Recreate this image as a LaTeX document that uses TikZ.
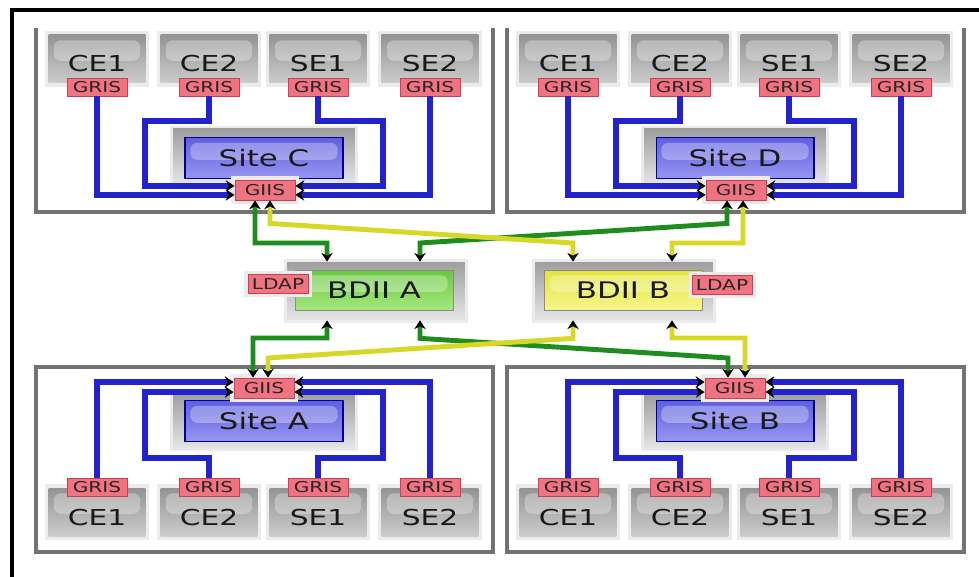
\documentclass[tikz,border=0pt]{standalone}
\usepackage{fontspec}
\usepackage{tikz}
\usepackage{xcolor}
\usetikzlibrary{arrows.meta,positioning}
\newfontfamily\diagfont[FakeStretch=1.35]{DejaVu Sans}

\definecolor{wireblue}{RGB}{35,35,205}
\definecolor{wiregreen}{RGB}{30,140,30}
\definecolor{wireyellow}{RGB}{215,215,40}
\definecolor{grisfill}{RGB}{240,115,130}
\definecolor{grisline}{RGB}{210,60,80}
\definecolor{sitetop}{RGB}{95,95,225}
\definecolor{sitebot}{RGB}{150,150,240}
\definecolor{bdiiAtop}{RGB}{105,200,65}
\definecolor{bdiiAbot}{RGB}{165,232,125}
\definecolor{bdiiBtop}{RGB}{228,228,60}
\definecolor{bdiiBbot}{RGB}{246,246,140}

\tikzset{
  halo/.style={preaction={draw=black!8,line width=#1}},
  gloss/.style={path picture={\fill[white,opacity=.3,rounded corners=4pt]
      ([xshift=3pt,yshift=-3pt]path picture bounding box.north west) rectangle
      ([xshift=-3pt,yshift=-1pt]path picture bounding box.east);}},
  machine/.style={rectangle,top color=black!42,bottom color=black!20,halo=4pt,gloss,
    minimum width=1.94cm,minimum height=0.96cm,inner sep=0pt,
    text height=0.52cm,text depth=0pt,text=black!90,
    font=\diagfont\fontsize{12.5}{14}\selectfont},
  gris/.style={rectangle,fill=grisfill,draw=grisline,line width=.5pt,
    minimum width=1.2cm,minimum height=0.36cm,inner sep=0pt,text=black!85,
    font=\diagfont\fontsize{8.5}{9}\selectfont},
  giis/.style={gris,minimum height=0.4cm,halo=5pt},
  sitebox/.style={rectangle,top color=black!38,bottom color=black!10,halo=3pt,
    minimum width=3.64cm,minimum height=1.1cm,inner sep=0pt},
  siteinner/.style={rectangle,draw=blue!60!black,line width=.6pt,
    top color=sitetop,bottom color=sitebot,gloss,
    minimum width=3.16cm,minimum height=0.82cm,inner sep=0pt,text=black!90,
    font=\diagfont\fontsize{13}{15}\selectfont},
  bdiibox/.style={sitebox,minimum width=3.56cm,minimum height=1.16cm},
  bdiiinner/.style 2 args={rectangle,draw=black!45,line width=.5pt,
    top color=#1,bottom color=#2,gloss,
    minimum width=3.16cm,minimum height=0.8cm,inner sep=0pt,text=black!90,
    font=\diagfont\fontsize{13}{15}\selectfont},
  siteframe/.style={draw=black!55,line width=1.8pt},
  wire/.style={draw=wireblue,line width=3.2pt,->},
  link/.style={draw=#1,line width=2.8pt,<->}
}

\begin{document}
\begin{tikzpicture}[x=0.02cm,y=-0.02cm,>={Stealth[black,length=5pt,width=6.5pt]}]
  \useasboundingbox (0,0) rectangle (979,577);
  \draw [line width=2.8pt](12,577) -- (12,10) -- (979,10);

  \draw [siteframe](36,28) -- (36,212) -- (493,212) -- (493,28);
  \draw [siteframe](507,28) -- (507,212) -- (964,212) -- (964,28);
  \draw [siteframe](36,367) rectangle (493,552);
  \draw [siteframe](507,367) rectangle (964,552);

  \node[machine] at(97,59)(mC1){CE1};
  \node[machine] at(209,59)(mC2){CE2};
  \node[machine] at(318,59)(mC3){SE1};
  \node[machine] at(430,59)(mC4){SE2};
  \node[gris] at(97,87)(gC1){GRIS};
  \node[gris] at(209,87)(gC2){GRIS};
  \node[gris] at(318,87)(gC3){GRIS};
  \node[gris] at(430,87)(gC4){GRIS};
  \node[sitebox] at(264,156)(siteC){};
  \node[siteinner] at(264,158)(siteCin){Site C};
  \node[giis] at(265,190)(giisC){GIIS};

  \node[machine] at(568,59)(mD1){CE1};
  \node[machine] at(680,59)(mD2){CE2};
  \node[machine] at(789,59)(mD3){SE1};
  \node[machine] at(901,59)(mD4){SE2};
  \node[gris] at(568,87)(gD1){GRIS};
  \node[gris] at(680,87)(gD2){GRIS};
  \node[gris] at(789,87)(gD3){GRIS};
  \node[gris] at(901,87)(gD4){GRIS};
  \node[sitebox] at(735,156)(siteD){};
  \node[siteinner] at(735,158)(siteDin){Site D};
  \node[giis] at(736,190)(giisD){GIIS};

  \node[machine] at(97,512)(mA1){CE1};
  \node[machine] at(209,512)(mA2){CE2};
  \node[machine] at(318,512)(mA3){SE1};
  \node[machine] at(430,512)(mA4){SE2};
  \node[gris] at(97,487)(gA1){GRIS};
  \node[gris] at(209,487)(gA2){GRIS};
  \node[gris] at(318,487)(gA3){GRIS};
  \node[gris] at(430,487)(gA4){GRIS};
  \node[sitebox] at(264,421)(siteA){};
  \node[siteinner] at(264,421)(siteAin){Site A};
  \node[giis] at(264,388)(giisA){GIIS};

  \node[machine] at(568,512)(mB1){CE1};
  \node[machine] at(680,512)(mB2){CE2};
  \node[machine] at(789,512)(mB3){SE1};
  \node[machine] at(901,512)(mB4){SE2};
  \node[gris] at(568,487)(gB1){GRIS};
  \node[gris] at(680,487)(gB2){GRIS};
  \node[gris] at(789,487)(gB3){GRIS};
  \node[gris] at(901,487)(gB4){GRIS};
  \node[sitebox] at(735,421)(siteB){};
  \node[siteinner] at(735,421)(siteBin){Site B};
  \node[giis] at(735,388)(giisB){GIIS};

  \node[bdiibox] at(376,291)(bdiiA){};
  \node[bdiiinner={bdiiAtop}{bdiiAbot}] at(374,290)(bdiiAin){BDII A};
  \node[gris,halo=4pt,minimum height=0.38cm] at(278,284)(ldapA){LDAP};
  \node[bdiibox] at(624,291)(bdiiB){};
  \node[bdiiinner={bdiiBtop}{bdiiBbot}] at(623,290)(bdiiBin){BDII B};
  \node[gris,halo=4pt,minimum height=0.38cm] at(722,285)(ldapB){LDAP};

  \draw [wire](gC1.south) |- ([yshift=-2.8pt]giisC.west);
  \draw [wire](gC2.south) |- (145,121) |- ([yshift=2.3pt]giisC.west);
  \draw [wire](gC3.south) |- (383,121) |- ([yshift=2.3pt]giisC.east);
  \draw [wire](gC4.south) |- ([yshift=-2.8pt]giisC.east);
  \draw [wire](gD1.south) |- ([yshift=-2.8pt]giisD.west);
  \draw [wire](gD2.south) |- (616,121) |- ([yshift=2.3pt]giisD.west);
  \draw [wire](gD3.south) |- (854,121) |- ([yshift=2.3pt]giisD.east);
  \draw [wire](gD4.south) |- ([yshift=-2.8pt]giisD.east);
  \draw [wire](gA1.north) |- ([yshift=3.4pt]giisA.west);
  \draw [wire](gA2.north) |- (145,458) |- ([yshift=-2.3pt]giisA.west);
  \draw [wire](gA3.north) |- (383,458) |- ([yshift=-2.3pt]giisA.east);
  \draw [wire](gA4.north) |- ([yshift=3.4pt]giisA.east);
  \draw [wire](gB1.north) |- ([yshift=3.4pt]giisB.west);
  \draw [wire](gB2.north) |- (616,458) |- ([yshift=-2.3pt]giisB.west);
  \draw [wire](gB3.north) |- (854,458) |- ([yshift=-2.3pt]giisB.east);
  \draw [wire](gB4.north) |- ([yshift=3.4pt]giisB.east);

  \draw [link=wiregreen]([xshift=-0.2cm]giisC.south) |- (327,243) -- ([xshift=-0.98cm]bdiiA.north);
  \draw [link=wiregreen]([xshift=-0.18cm]giisD.south) -- ++(0,23) -- (420,243) -- ([xshift=0.88cm]bdiiA.north);
  \draw [link=wireyellow]([xshift=0.1cm]giisC.south) -- ++(0,23) -- (573,243) -- ([xshift=-1.02cm]bdiiB.north);
  \draw [link=wireyellow]([xshift=0.14cm]giisD.south) |- (672,243) -- ([xshift=0.96cm]bdiiB.north);
  \draw [link=wiregreen]([xshift=-0.98cm]bdiiA.south) |- (253,338) -- ([xshift=-0.22cm]giisA.north);
  \draw [link=wiregreen]([xshift=0.88cm]bdiiA.south) -- ++(0,18) -- (728,358) -- ([xshift=-0.14cm]giisB.north);
  \draw [link=wireyellow]([xshift=-1.02cm]bdiiB.south) -- ++(0,18) -- (268,358) -- ([xshift=0.08cm]giisA.north);
  \draw [link=wireyellow]([xshift=0.96cm]bdiiB.south) |- (745,338) -- ([xshift=0.2cm]giisB.north);
\end{tikzpicture}
\end{document}
